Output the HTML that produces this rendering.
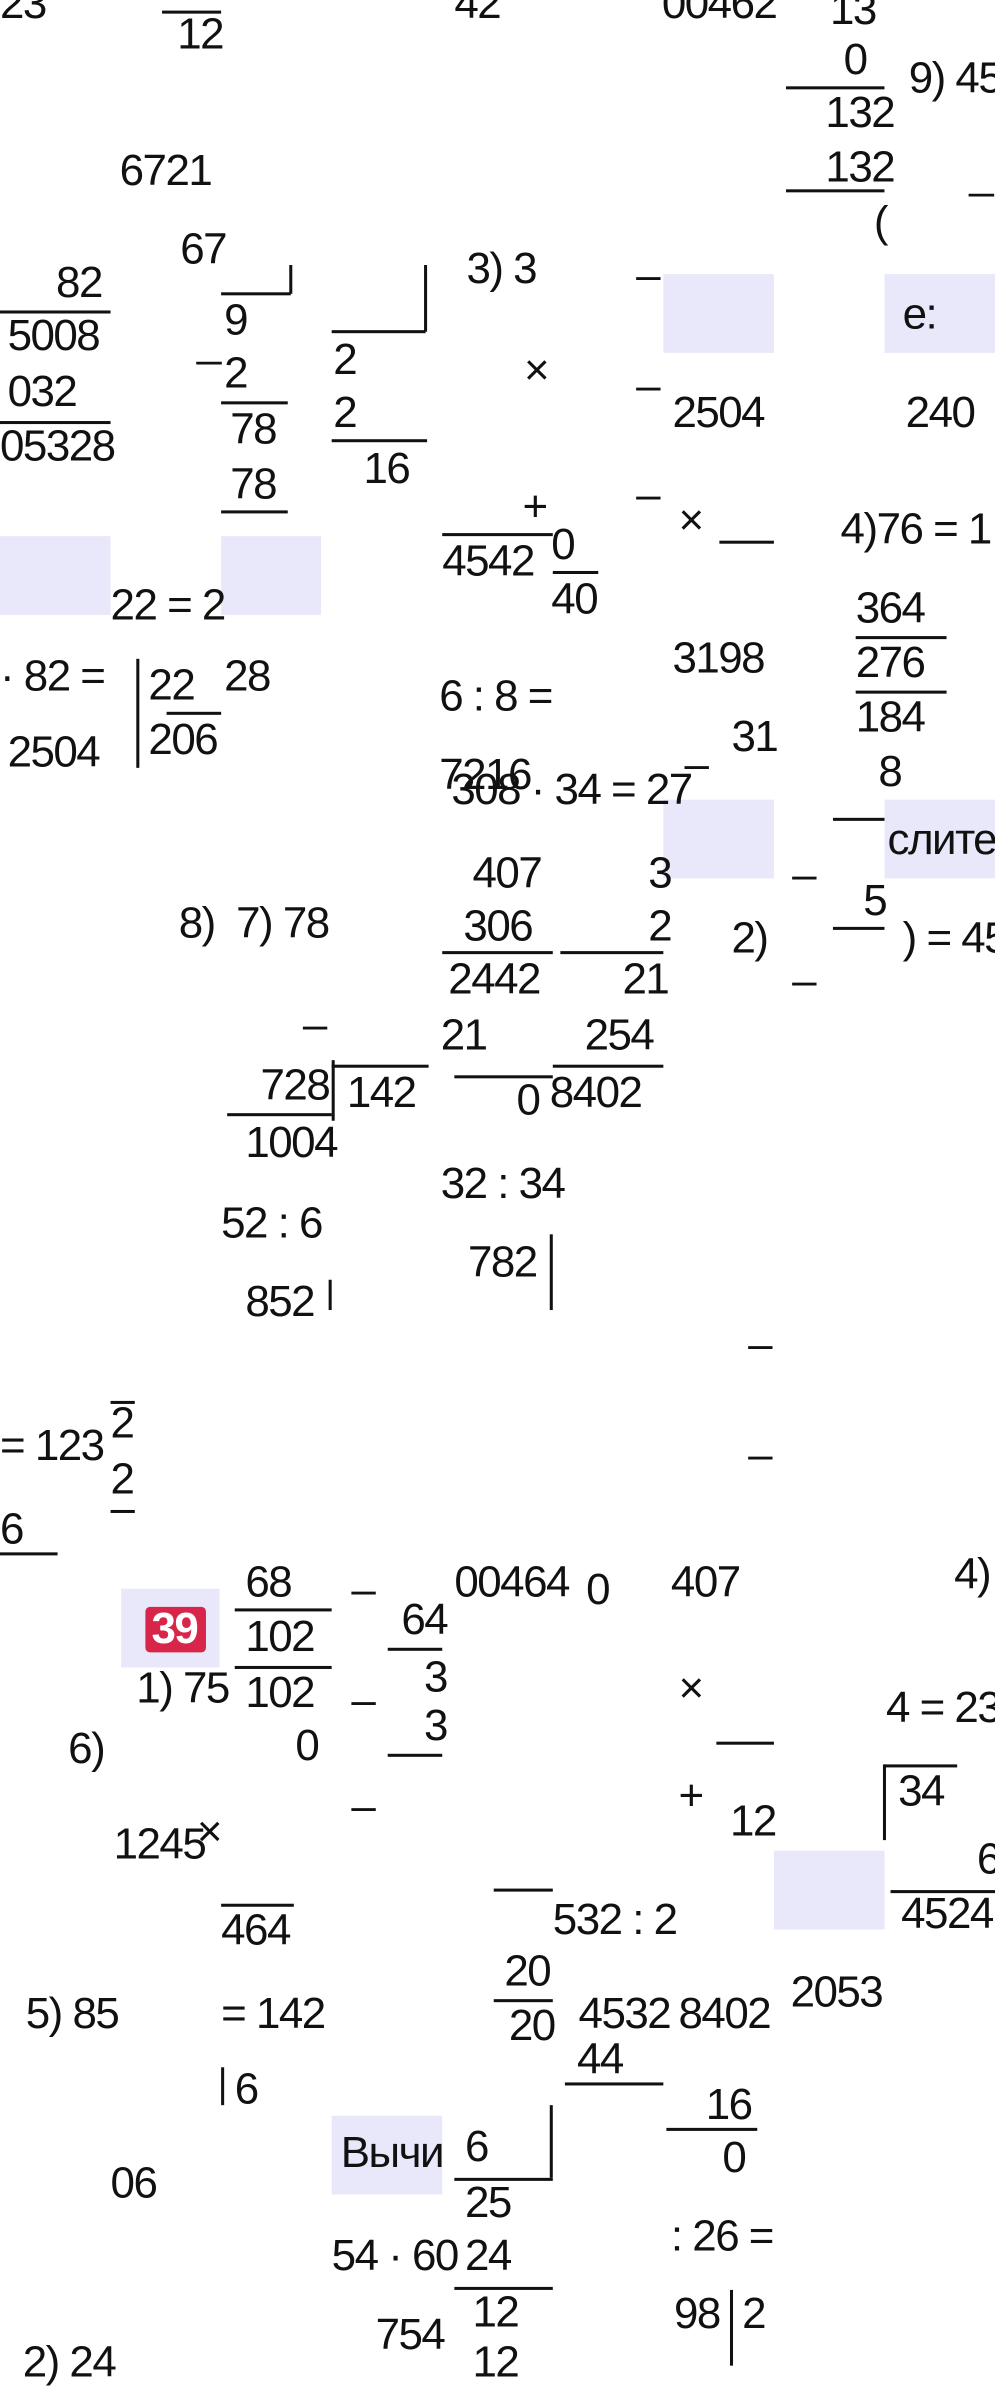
<!DOCTYPE html>
<html><head><meta charset="utf-8"><style>
html,body{margin:0;padding:0;background:#fff;width:995px;height:2365px;overflow:hidden}
#w{position:absolute;left:0;top:0;width:657px;height:1562px;transform:scale(1.5145);transform-origin:0 0}
.t{position:absolute;font-family:"Liberation Sans Narrow","Liberation Sans","Noto Sans CJK SC",sans-serif;font-size:29px;letter-spacing:-1px;line-height:30px;color:#111;white-space:nowrap}
.b{position:absolute;background:#e8e8fa}
.l{position:absolute;height:1.5px;background:#111}
.v{position:absolute;width:1.5px;background:#111}
</style></head><body><div id="w">
<div class="b" style="left:438px;top:181px;width:73px;height:52px"></div>
<div class="b" style="left:584px;top:181px;width:73px;height:52px"></div>
<div class="b" style="left:0;top:354px;width:73px;height:52px"></div>
<div class="b" style="left:146px;top:354px;width:66px;height:52px"></div>
<div class="b" style="left:438px;top:528px;width:73px;height:52px"></div>
<div class="b" style="left:584px;top:528px;width:73px;height:52px"></div>
<div class="b" style="left:80px;top:1049px;width:65px;height:52px"></div>
<div style="position:absolute;left:96px;top:1061px;width:40px;height:30px;background:#d8264a;border-radius:3px"></div>
<div class="b" style="left:511px;top:1222px;width:73px;height:52px"></div>
<div class="b" style="left:219px;top:1397px;width:73px;height:52px"></div>

<div class="l" style="left:107px;top:7px;width:39px"></div>
<div class="l" style="left:519px;top:57px;width:65px"></div>
<div class="l" style="left:519px;top:125px;width:65px"></div>
<div class="l" style="left:0;top:205px;width:73px"></div>
<div class="l" style="left:0;top:278px;width:73px"></div>
<div class="l" style="left:146px;top:193px;width:46px"></div>
<div class="v" style="left:191px;top:175px;height:19px"></div>
<div class="l" style="left:219px;top:218px;width:62px"></div>
<div class="v" style="left:280px;top:175px;height:44px"></div>
<div class="l" style="left:146px;top:265px;width:44px"></div>
<div class="l" style="left:219px;top:290px;width:63px"></div>
<div class="l" style="left:146px;top:337px;width:44px"></div>
<div class="l" style="left:292px;top:352px;width:73px"></div>
<div class="l" style="left:365px;top:377px;width:30px"></div>
<div class="l" style="left:475px;top:357px;width:36px"></div>
<div class="l" style="left:110px;top:470px;width:36px"></div>
<div class="v" style="left:90px;top:435px;height:72px"></div>
<div class="l" style="left:565px;top:420px;width:60px"></div>
<div class="l" style="left:565px;top:456px;width:60px"></div>
<div class="l" style="left:550px;top:540px;width:34px"></div>
<div class="l" style="left:550px;top:612px;width:34px"></div>
<div class="l" style="left:292px;top:628px;width:73px"></div>
<div class="l" style="left:370px;top:628px;width:68px"></div>
<div class="l" style="left:219px;top:703px;width:64px"></div>
<div class="v" style="left:219px;top:700px;height:40px"></div>
<div class="l" style="left:300px;top:710px;width:65px"></div>
<div class="l" style="left:365px;top:703px;width:73px"></div>
<div class="l" style="left:150px;top:735px;width:69px"></div>
<div class="v" style="left:217px;top:845px;height:20px"></div>
<div class="v" style="left:363px;top:815px;height:50px"></div>
<div class="l" style="left:73px;top:925px;width:16px"></div>
<div class="l" style="left:73px;top:997px;width:16px"></div>
<div class="l" style="left:0;top:1025px;width:38px"></div>
<div class="l" style="left:155px;top:1062px;width:64px"></div>
<div class="l" style="left:155px;top:1100px;width:64px"></div>
<div class="l" style="left:256px;top:1088px;width:36px"></div>
<div class="l" style="left:256px;top:1158px;width:36px"></div>
<div class="l" style="left:473px;top:1150px;width:38px"></div>
<div class="l" style="left:584px;top:1165px;width:48px"></div>
<div class="v" style="left:583px;top:1165px;height:50px"></div>
<div class="l" style="left:588px;top:1248px;width:69px"></div>
<div class="l" style="left:146px;top:1257px;width:48px"></div>
<div class="l" style="left:326px;top:1247px;width:39px"></div>
<div class="l" style="left:326px;top:1320px;width:39px"></div>
<div class="l" style="left:373px;top:1375px;width:65px"></div>
<div class="l" style="left:440px;top:1405px;width:60px"></div>
<div class="v" style="left:146px;top:1365px;height:25px"></div>
<div class="v" style="left:363px;top:1390px;height:48px"></div>
<div class="l" style="left:300px;top:1438px;width:65px"></div>
<div class="l" style="left:300px;top:1510px;width:65px"></div>
<div class="v" style="left:482px;top:1512px;height:50px"></div>

<div class="t" style="left:0;top:-12px">23</div>
<div class="t" style="left:117px;top:8px">12</div>
<div class="t" style="left:300px;top:-12px">42</div>
<div class="t" style="left:437px;top:-12px">00462</div>
<div class="t" style="left:548px;top:-8px">13</div>
<div class="t" style="left:557px;top:25px">0</div>
<div class="t" style="left:600px;top:37px">9) 45</div>
<div class="t" style="left:545px;top:60px">132</div>
<div class="t" style="left:79px;top:98px">6721</div>
<div class="t" style="left:545px;top:96px">132</div>
<div class="t" style="left:577px;top:132px">(</div>
<div class="t" style="left:640px;top:100px">_</div>
<div class="t" style="left:119px;top:150px">67</div>
<div class="t" style="left:308px;top:163px">3) 3</div>
<div class="t" style="left:420px;top:167px">–</div>
<div class="t" style="left:37px;top:172px">82</div>
<div class="t" style="left:596px;top:193px">e:</div>
<div class="t" style="left:5px;top:207px">5008</div>
<div class="t" style="left:148px;top:197px">9</div>
<div class="t" style="left:130px;top:211px">_</div>
<div class="t" style="left:220px;top:223px">2</div>
<div class="t" style="left:148px;top:232px">2</div>
<div class="t" style="left:346px;top:230px">×</div>
<div class="t" style="left:420px;top:240px">–</div>
<div class="t" style="left:5px;top:244px">032</div>
<div class="t" style="left:152px;top:269px">78</div>
<div class="t" style="left:444px;top:258px">2504</div>
<div class="t" style="left:598px;top:258px">240</div>
<div class="t" style="left:0;top:280px">05328</div>
<div class="t" style="left:220px;top:258px">2</div>
<div class="t" style="left:240px;top:295px">16</div>
<div class="t" style="left:152px;top:305px">78</div>
<div class="t" style="left:345px;top:320px">+</div>
<div class="t" style="left:420px;top:312px">–</div>
<div class="t" style="left:448px;top:329px">×</div>
<div class="t" style="left:555px;top:335px">4)76 = 1</div>
<div class="t" style="left:292px;top:356px">4542</div>
<div class="t" style="left:364px;top:345px">0</div>
<div class="t" style="left:364px;top:381px">40</div>
<div class="t" style="left:73px;top:385px">22 = 2</div>
<div class="t" style="left:565px;top:387px">364</div>
<div class="t" style="left:0;top:432px">· 82 =</div>
<div class="t" style="left:98px;top:438px">22</div>
<div class="t" style="left:148px;top:432px">28</div>
<div class="t" style="left:444px;top:420px">3198</div>
<div class="t" style="left:290px;top:445px">6 : 8 =</div>
<div class="t" style="left:565px;top:423px">276</div>
<div class="t" style="left:5px;top:482px">2504</div>
<div class="t" style="left:98px;top:474px">206</div>
<div class="t" style="left:565px;top:459px">184</div>
<div class="t" style="left:483px;top:472px">31</div>
<div class="t" style="left:290px;top:497px">7216</div>
<div class="t" style="left:298px;top:507px">308 · 34 = 27</div>
<div class="t" style="left:580px;top:495px">8</div>
<div class="t" style="left:452px;top:490px">–</div>
<div class="t" style="left:586px;top:540px">слите</div>
<div class="t" style="left:312px;top:562px">407</div>
<div class="t" style="left:428px;top:562px">3</div>
<div class="t" style="left:523px;top:563px">–</div>
<div class="t" style="left:118px;top:595px">8)&nbsp; 7) 78</div>
<div class="t" style="left:306px;top:597px">306</div>
<div class="t" style="left:428px;top:597px">2</div>
<div class="t" style="left:483px;top:605px">2)</div>
<div class="t" style="left:570px;top:580px">5</div>
<div class="t" style="left:596px;top:605px">) = 45</div>
<div class="t" style="left:296px;top:632px">2442</div>
<div class="t" style="left:411px;top:632px">21</div>
<div class="t" style="left:523px;top:633px">–</div>
<div class="t" style="left:200px;top:662px">–</div>
<div class="t" style="left:291px;top:669px">21</div>
<div class="t" style="left:386px;top:669px">254</div>
<div class="t" style="left:172px;top:702px">728</div>
<div class="t" style="left:229px;top:707px">142</div>
<div class="t" style="left:341px;top:712px">0</div>
<div class="t" style="left:363px;top:707px">8402</div>
<div class="t" style="left:162px;top:740px">1004</div>
<div class="t" style="left:146px;top:793px">52 : 6</div>
<div class="t" style="left:291px;top:767px">32 : 34</div>
<div class="t" style="left:309px;top:819px">782</div>
<div class="t" style="left:162px;top:845px">852</div>
<div class="t" style="left:494px;top:873px">–</div>
<div class="t" style="left:494px;top:946px">–</div>
<div class="t" style="left:0;top:940px">= 123</div>
<div class="t" style="left:73px;top:925px">2</div>
<div class="t" style="left:73px;top:962px">2</div>
<div class="t" style="left:0;top:995px">6</div>
<div class="t" style="left:162px;top:1030px">68</div>
<div class="t" style="left:162px;top:1066px">102</div>
<div class="t" style="left:232px;top:1035px">–</div>
<div class="t" style="left:265px;top:1055px">64</div>
<div class="t" style="left:300px;top:1030px">00464</div>
<div class="t" style="left:387px;top:1035px">0</div>
<div class="t" style="left:443px;top:1030px">407</div>
<div class="t" style="left:630px;top:1025px">4)</div>
<div class="t" style="left:100px;top:1061px;color:#fff;font-weight:bold">39</div>
<div class="t" style="left:90px;top:1100px">1) 75</div>
<div class="t" style="left:162px;top:1103px">102</div>
<div class="t" style="left:232px;top:1108px">–</div>
<div class="t" style="left:280px;top:1093px">3</div>
<div class="t" style="left:448px;top:1100px">×</div>
<div class="t" style="left:585px;top:1113px">4 = 23</div>
<div class="t" style="left:45px;top:1140px">6)</div>
<div class="t" style="left:195px;top:1138px">0</div>
<div class="t" style="left:280px;top:1125px">3</div>
<div class="t" style="left:593px;top:1168px">34</div>
<div class="t" style="left:448px;top:1171px">+</div>
<div class="t" style="left:232px;top:1178px">–</div>
<div class="t" style="left:482px;top:1188px">12</div>
<div class="t" style="left:130px;top:1195px">×</div>
<div class="t" style="left:75px;top:1203px">1245</div>
<div class="t" style="left:645px;top:1213px">6</div>
<div class="t" style="left:595px;top:1249px">4524</div>
<div class="t" style="left:146px;top:1260px">464</div>
<div class="t" style="left:365px;top:1253px">532 : 2</div>
<div class="t" style="left:333px;top:1287px">20</div>
<div class="t" style="left:522px;top:1301px">2053</div>
<div class="t" style="left:17px;top:1315px">5) 85</div>
<div class="t" style="left:146px;top:1315px">= 142</div>
<div class="t" style="left:382px;top:1315px">4532</div>
<div class="t" style="left:448px;top:1315px">8402</div>
<div class="t" style="left:336px;top:1323px">20</div>
<div class="t" style="left:381px;top:1345px">44</div>
<div class="t" style="left:155px;top:1365px">6</div>
<div class="t" style="left:466px;top:1375px">16</div>
<div class="t" style="left:477px;top:1410px">0</div>
<div class="t" style="left:225px;top:1407px">Вычи</div>
<div class="t" style="left:307px;top:1403px">6</div>
<div class="t" style="left:73px;top:1427px">06</div>
<div class="t" style="left:307px;top:1440px">25</div>
<div class="t" style="left:443px;top:1462px">: 26 =</div>
<div class="t" style="left:219px;top:1475px">54 · 60</div>
<div class="t" style="left:307px;top:1475px">24</div>
<div class="t" style="left:312px;top:1512px">12</div>
<div class="t" style="left:248px;top:1527px">754</div>
<div class="t" style="left:445px;top:1513px">98</div>
<div class="t" style="left:490px;top:1513px">2</div>
<div class="t" style="left:15px;top:1545px">2) 24</div>
<div class="t" style="left:312px;top:1545px">12</div>
</div></body></html>
